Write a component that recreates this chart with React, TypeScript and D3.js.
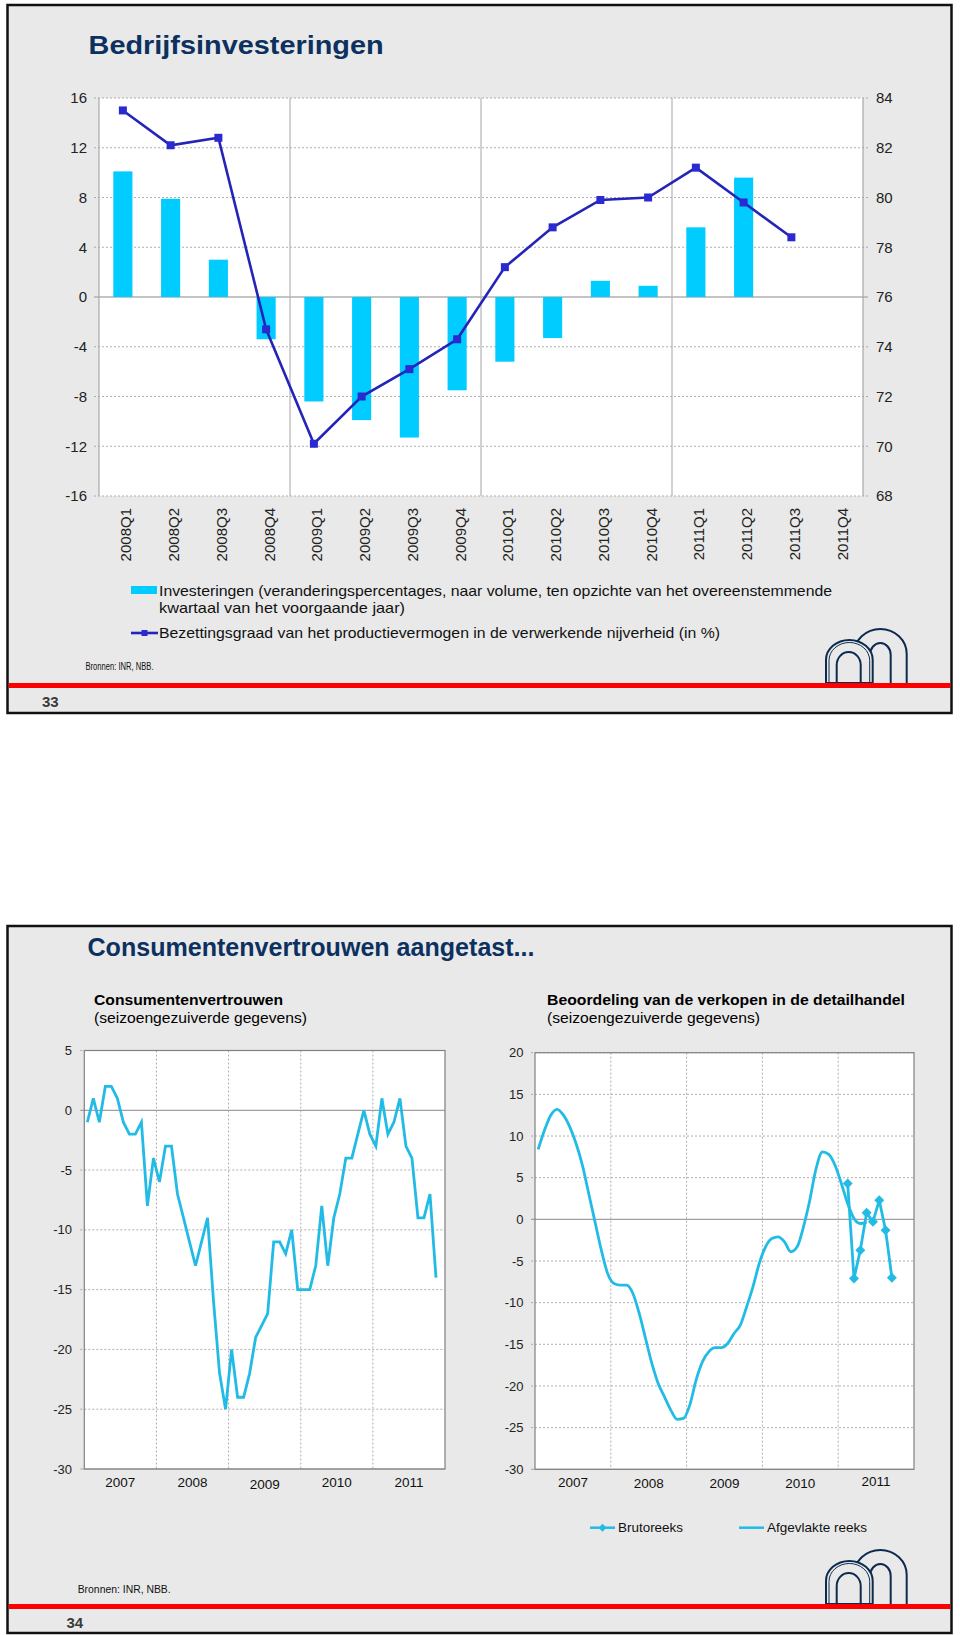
import React from 'react';
import * as d3 from 'd3';

// ---------- Slide 1 data ----------
const quarters = ['2008Q1','2008Q2','2008Q3','2008Q4','2009Q1','2009Q2','2009Q3','2009Q4','2010Q1','2010Q2','2010Q3','2010Q4','2011Q1','2011Q2','2011Q3','2011Q4'];
const investeringen: (number | null)[] = [10.1, 7.9, 3.0, -3.4, -8.4, -9.9, -11.3, -7.5, -5.2, -3.3, 1.3, 0.9, 5.6, 9.6, null, null];
const bezettingsgraad: (number | null)[] = [83.5, 82.1, 82.4, 74.7, 70.1, 72.0, 73.1, 74.3, 77.2, 78.8, 79.9, 80.0, 81.2, 79.8, 78.4, null];
const leftTicks1 = [-16, -12, -8, -4, 0, 4, 8, 12, 16];
const rightTicks1 = [68, 70, 72, 74, 76, 78, 80, 82, 84];
const legend1 = [
  'Investeringen (veranderingspercentages, naar volume, ten opzichte van het overeenstemmende',
  'kwartaal van het voorgaande jaar)',
  'Bezettingsgraad van het productievermogen in de verwerkende nijverheid (in %)',
];

// ---------- Slide 2 data ----------
const years = ['2007', '2008', '2009', '2010', '2011'];
// Consumer confidence, monthly Jan 2007 - Nov 2011
const consumentenvertrouwen = [
  -1, 1, -1, 2, 2, 1, -1, -2, -2, -1, -8, -4,
  -6, -3, -3, -7, -9, -11, -13, -11, -9, -16, -22, -25,
  -20, -24, -24, -22, -19, -18, -17, -11, -11, -12, -10, -15,
  -15, -15, -13, -8, -13, -9, -7, -4, -4, -2, 0, -2,
  -3, 1, -2, -1, 1, -3, -4, -9, -9, -7, -14,
];
// Retail sales assessment, smoothed, monthly from Jan 2007
const afgevlakteReeks = [
  8.4, 10.7, 12.5, 13.2, 12.5, 11.1, 9.1, 6.5, 3.1, -0.3, -3.7, -6.5,
  -7.7, -7.9, -7.9, -8.9, -11.3, -14.3, -17.3, -19.7, -21.3, -22.9, -24.0, -23.9,
  -22.3, -19.3, -17.1, -15.9, -15.4, -15.4, -14.9, -13.7, -12.7, -10.5, -8.1, -5.3,
  -3.3, -2.3, -2.1, -2.7, -3.9, -3.3, -0.9, 2.3, 6.1, 8.1, 7.8, 6.5,
  4.3, 1.9, 0.1, -0.5, -0.4,
];
// Raw series, monthly Feb 2011 - Sep 2011
const brutoreeks = [4.3, -7.1, -3.7, 0.8, -0.3, 2.3, -1.3, -7.0];
const brutoStartMonth = 49; // months since Jan 2007
const ccTicks = [5, 0, -5, -10, -15, -20, -25, -30];
const retailTicks = [20, 15, 10, 5, 0, -5, -10, -15, -20, -25, -30];

const NAVY = '#0c315f';
const BG = '#e9e9e9';
const CYAN_BAR = '#00ccff';
const BLUE_LINE = '#2424b8';
const CYAN_LINE = '#22bbe6';
const GRID = '#9a9a9a';
const FONT = 'Liberation Sans, Arial, sans-serif';

function Logo({ base }: { base: number }) {
  const arch = (l: number, r: number, top: number, ry: number) => {
    const rx = (r - l) / 2;
    const legTop = top + ry;
    return `M${l},${base} V${legTop} A${rx},${ry} 0 0 1 ${r},${legTop} V${base}`;
  };
  const c = '#0d2b4e';
  return (
    <g fill="none" stroke={c} strokeWidth={2}>
      <path d={arch(854, 906.7, base - 54, 25)} />
      <path d={arch(870, 890.7, base - 40, 12)} />
      <path d={arch(826, 872.7, base - 43, 20) + ' Z'} fill={BG} />
      <path d={arch(829, 869.7, base - 40.5, 18)} strokeWidth={1} />
      <path d={arch(836.7, 860.7, base - 31, 13)} />
    </g>
  );
}

function Slide1() {
  const x0 = 99, x1 = 863, yTop = 98, yBot = 496;
  const xBand = d3.scaleBand<string>().domain(quarters).range([x0, x1]).paddingInner(0.6).paddingOuter(0.3);
  const xPoint = (q: string) => (xBand(q) as number) + xBand.bandwidth() / 2;
  const yL = d3.scaleLinear().domain([-16, 16]).range([yBot, yTop]);
  const yR = d3.scaleLinear().domain([68, 84]).range([yBot, yTop]);
  const step = (x1 - x0) / quarters.length;
  const lineGen = d3.line<number | null>()
    .defined((d) => d != null)
    .x((_, i) => xPoint(quarters[i]))
    .y((d) => yR(d as number));
  return (
    <g fontFamily={FONT}>
      <rect x={7.5} y={5} width={944} height={708} fill={BG} stroke="#111" strokeWidth={2.5} />
      <text x={88.6} y={54} fontSize={26} fontWeight="bold" fill={NAVY} textLength={295} lengthAdjust="spacingAndGlyphs">Bedrijfsinvesteringen</text>
      <rect x={x0} y={yTop} width={x1 - x0} height={yBot - yTop} fill="#fff" />
      {leftTicks1.map((t) => (
        <line key={'g' + t} x1={x0 - 5} x2={x1 + 5} y1={yL(t)} y2={yL(t)} stroke={t === 0 ? '#b0b0b0' : GRID}
          strokeWidth={t === 0 ? 1.5 : 0.8} strokeDasharray={t === 0 ? undefined : '2,2'} />
      ))}
      {[4, 8, 12].map((k) => (
        <line key={'v' + k} x1={x0 + k * step} x2={x0 + k * step} y1={yTop} y2={yBot} stroke="#b4b4b4" strokeWidth={1.2} />
      ))}
      <line x1={x0} x2={x0} y1={yTop} y2={yBot} stroke="#a8a8a8" strokeWidth={1.2} />
      <line x1={x1} x2={x1} y1={yTop} y2={yBot} stroke="#a8a8a8" strokeWidth={1.2} />
      {leftTicks1.map((t) => (
        <text key={'l' + t} x={87} y={yL(t)} dy="0.35em" textAnchor="end" fontSize={15} fill="#222">{t}</text>
      ))}
      {rightTicks1.map((t) => (
        <text key={'r' + t} x={876} y={yR(t)} dy="0.35em" fontSize={15} fill="#222">{t}</text>
      ))}
      {investeringen.map((v, i) => v == null ? null : (
        <rect key={'b' + i} x={xBand(quarters[i])} width={xBand.bandwidth()}
          y={Math.min(yL(v), yL(0))} height={Math.abs(yL(v) - yL(0))} fill={CYAN_BAR} />
      ))}
      <path d={lineGen(bezettingsgraad) || ''} fill="none" stroke={BLUE_LINE} strokeWidth={2.6} />
      {bezettingsgraad.map((v, i) => v == null ? null : (
        <rect key={'m' + i} x={xPoint(quarters[i]) - 4} y={yR(v) - 4} width={8} height={8} fill="#2a2ad0" />
      ))}
      {quarters.map((q) => (
        <text key={'q' + q} transform={`translate(${xPoint(q) + 8.5},508) rotate(-90)`} textAnchor="end" fontSize={15} fill="#222">{q}</text>
      ))}
      <rect x={131} y={586} width={26} height={8} fill={CYAN_BAR} />
      <text x={159} y={596} fontSize={15} fill="#111" textLength={673} lengthAdjust="spacingAndGlyphs">{legend1[0]}</text>
      <text x={159} y={613} fontSize={15} fill="#111" textLength={246} lengthAdjust="spacingAndGlyphs">{legend1[1]}</text>
      <line x1={131} x2={158} y1={633} y2={633} stroke={BLUE_LINE} strokeWidth={2.6} />
      <rect x={141.5} y={630} width={6} height={6} fill="#2a2ad0" />
      <text x={159} y={638} fontSize={15} fill="#111" textLength={561} lengthAdjust="spacingAndGlyphs">{legend1[2]}</text>
      <text x={85.5} y={670} fontSize={10} fill="#111" textLength={68} lengthAdjust="spacingAndGlyphs">Bronnen: INR, NBB.</text>
      <Logo base={683} />
      <rect x={8.8} y={683} width={941.5} height={5} fill="#ff0000" />
      <text x={42} y={707} fontSize={15} fontWeight="bold" fill="#3a3a3a">33</text>
    </g>
  );
}

function MonthChart({ x0, x1, yTop, yBot, ymin, ymax, ticks, labelX, yearDy, children }:
  { x0: number; x1: number; yTop: number; yBot: number; ymin: number; ymax: number; ticks: number[]; labelX: number; yearDy: number[]; children: (x: d3.ScaleLinear<number, number>, y: d3.ScaleLinear<number, number>) => React.ReactNode }) {
  const x = d3.scaleLinear().domain([0, 60]).range([x0, x1]);
  const y = d3.scaleLinear().domain([ymin, ymax]).range([yBot, yTop]);
  return (
    <g>
      <rect x={x0} y={yTop} width={x1 - x0} height={yBot - yTop} fill="#fff" />
      {ticks.map((t) => (
        <line key={'h' + t} x1={x0 - 4} x2={x1} y1={y(t)} y2={y(t)}
          stroke={t === 0 ? '#a0a0a0' : GRID} strokeWidth={t === 0 ? 1.3 : 0.8}
          strokeDasharray={t === 0 || t === ymin ? undefined : '2,2'} />
      ))}
      {[12, 24, 36, 48].map((m) => (
        <line key={'v' + m} x1={x(m)} x2={x(m)} y1={yTop} y2={yBot} stroke={GRID} strokeWidth={0.8} strokeDasharray="2,2" />
      ))}
      <rect x={x0} y={yTop} width={x1 - x0} height={yBot - yTop} fill="none" stroke="#808080" strokeWidth={1.2} />
      {ticks.map((t) => (
        <text key={'t' + t} x={labelX} y={y(t)} dy="0.35em" textAnchor="end" fontSize={13} fill="#222">{t}</text>
      ))}
      {years.map((yr, i) => (
        <text key={yr} x={x(i * 12 + 6)} y={1487 + yearDy[i]} textAnchor="middle" fontSize={13.5} fill="#111">{yr}</text>
      ))}
      {children(x, y)}
    </g>
  );
}

function Slide2() {
  return (
    <g fontFamily={FONT}>
      <rect x={7.5} y={926} width={944} height={707} fill={BG} stroke="#111" strokeWidth={2.5} />
      <text x={87.5} y={956} fontSize={26} fontWeight="bold" fill={NAVY} textLength={447} lengthAdjust="spacingAndGlyphs">Consumentenvertrouwen aangetast...</text>
      <text x={94} y={1005} fontSize={15} fontWeight="bold" fill="#000" textLength={189} lengthAdjust="spacingAndGlyphs">Consumentenvertrouwen</text>
      <text x={94} y={1023} fontSize={15} fill="#000" textLength={213} lengthAdjust="spacingAndGlyphs">(seizoengezuiverde gegevens)</text>
      <text x={547} y={1005} fontSize={15} fontWeight="bold" fill="#000" textLength={358} lengthAdjust="spacingAndGlyphs">Beoordeling van de verkopen in de detailhandel</text>
      <text x={547} y={1023} fontSize={15} fill="#000" textLength={213} lengthAdjust="spacingAndGlyphs">(seizoengezuiverde gegevens)</text>

      <MonthChart x0={84.3} x1={445} yTop={1050.5} yBot={1469} ymin={-30} ymax={5} ticks={ccTicks} labelX={72} yearDy={[0, 0, 2, 0, 0]}>
        {(x, y) => (
          <path d={d3.line<number>().x((_, i) => x(i + 0.5)).y((d) => y(d))(consumentenvertrouwen) || ''}
            fill="none" stroke={CYAN_LINE} strokeWidth={2.8} strokeLinejoin="miter" />
        )}
      </MonthChart>

      <MonthChart x0={535} x1={914} yTop={1052.7} yBot={1469.3} ymin={-30} ymax={20} ticks={retailTicks} labelX={523.5} yearDy={[-0.5, 1, 1, 1, -1]}>
        {(x, y) => (
          <g>
            <path d={d3.line<number>().x((_, i) => x(i + 0.5)).y((d) => y(d)).curve(d3.curveMonotoneX)(afgevlakteReeks) || ''}
              fill="none" stroke={CYAN_LINE} strokeWidth={2.8} />
            <path d={d3.line<number>().x((_, i) => x(brutoStartMonth + i + 0.5)).y((d) => y(d))(brutoreeks) || ''}
              fill="none" stroke={CYAN_LINE} strokeWidth={2.8} />
            {brutoreeks.map((v, i) => {
              const cx = x(brutoStartMonth + i + 0.5), cy = y(v);
              return <path key={i} d={`M${cx},${cy - 5}L${cx + 5},${cy}L${cx},${cy + 5}L${cx - 5},${cy}Z`} fill={CYAN_LINE} />;
            })}
          </g>
        )}
      </MonthChart>

      <line x1={590} x2={615} y1={1527.7} y2={1527.7} stroke={CYAN_LINE} strokeWidth={2.5} />
      <path d="M602.5,1523.7L606.5,1527.7L602.5,1531.7L598.5,1527.7Z" fill={CYAN_LINE} />
      <text x={618} y={1532} fontSize={13.5} fill="#111" textLength={65} lengthAdjust="spacingAndGlyphs">Brutoreeks</text>
      <line x1={739} x2={764} y1={1527.7} y2={1527.7} stroke={CYAN_LINE} strokeWidth={2.5} />
      <text x={767} y={1532} fontSize={13.5} fill="#111" textLength={100} lengthAdjust="spacingAndGlyphs">Afgevlakte reeks</text>

      <text x={77.7} y={1592.7} fontSize={11.5} fill="#111" textLength={93} lengthAdjust="spacingAndGlyphs">Bronnen: INR, NBB.</text>
      <Logo base={1604} />
      <rect x={8.8} y={1604} width={941.5} height={5} fill="#ff0000" />
      <text x={66.5} y={1628} fontSize={15} fontWeight="bold" fill="#3a3a3a">34</text>
    </g>
  );
}

export default function App() {
  return (
    <svg width={960} height={1635} style={{ position: 'absolute', left: 0, top: 0, background: '#fff' }}>
      <Slide1 />
      <Slide2 />
    </svg>
  );
}
